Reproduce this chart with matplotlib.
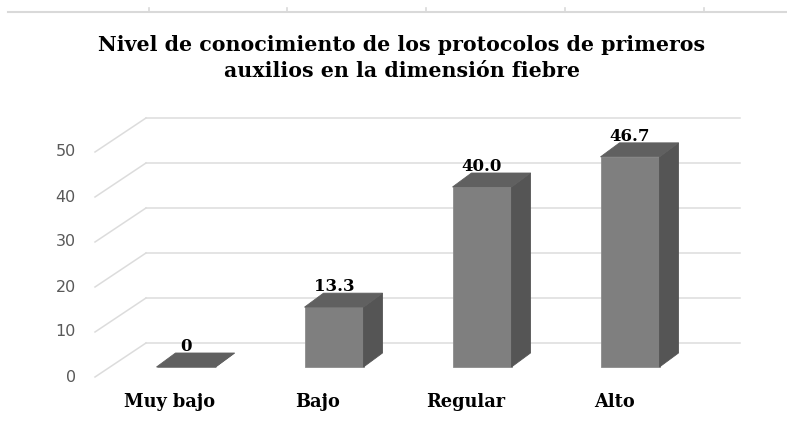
import matplotlib
matplotlib.use('Agg')
import matplotlib.pyplot as plt
from matplotlib.patches import Polygon
from matplotlib.lines import Line2D

# data
categorias = ['Muy bajo', 'Bajo', 'Regular', 'Alto']
valores = [0, 13.3, 40.0, 46.7]
etiquetas = ['0', '13.3', '40.0', '46.7']
ticks_y = [0, 10, 20, 30, 40, 50]
titulo = 'Nivel de conocimiento de los protocolos de primeros\nauxilios en la dimensión fiebre'

W, H = 787, 421
fig = plt.figure(figsize=(W / 100, H / 100), dpi=100)
ax = fig.add_axes([0, 0, 1, 1])
ax.set_axis_off()

# pixel scale of the front plane of the bars
PX_X = 148.0      # pixels per category
PX_Y = 4.5        # pixels per unit of value
X0_PX = 186.0     # pixel x of the first category
Y0_PX = 367.0     # pixel y (from top) of value 0
ax.set_xlim(-X0_PX / PX_X, (W - X0_PX) / PX_X)
ax.set_ylim((Y0_PX - H) / PX_Y, Y0_PX / PX_Y)


def dx(px):
    return px / PX_X


def dy(px):
    # px measured downward on screen
    return -px / PX_Y


# walls (front edge, back edge)
plane_left = dx(109.6 - X0_PX)
fx, fy = dx(-14.6), dy(10)
bx, by = dx(36.4), dy(-24)
right_end = dx(740 - X0_PX)
grid_kw = dict(color='#dcdcdc', linewidth=1.1, zorder=1)

for t in ticks_y:
    ax.plot([plane_left + fx, plane_left + bx], [t + fy, t + by], **grid_kw)
    ax.plot([plane_left + bx, right_end], [t + by, t + by], **grid_kw)
    ax.text(plane_left + fx - dx(19), t + fy, str(t), ha='right', va='center',
            fontsize=11.5, color='#595959', family='DejaVu Sans')

# bars
w = dx(59)
bdx, bdy = dx(19), dy(-14)
for i, v in enumerate(valores):
    l, r = i - w / 2, i + w / 2
    ax.bar(i, v, width=w, color='#7f7f7f', edgecolor='#8c8c8c', linewidth=0.6, zorder=3)
    side = Polygon([(r, 0), (r + bdx, bdy), (r + bdx, v + bdy), (r, v)],
                   closed=True, facecolor='#555555', edgecolor='#555555',
                   linewidth=0.6, zorder=3)
    top = Polygon([(l, v), (r, v), (r + bdx, v + bdy), (l + bdx, v + bdy)],
                  closed=True, facecolor='#606060', edgecolor='#606060',
                  linewidth=0.6, zorder=4)
    ax.add_patch(side)
    ax.add_patch(top)
    ax.text(i, v + bdy + dy(-2), etiquetas[i], ha='center', va='baseline',
            fontsize=12, fontweight='bold', family='DejaVu Serif', color='black')
    ax.text(i + dx(-16), dy(40), categorias[i], ha='center', va='baseline',
            fontsize=12.8, fontweight='bold', family='DejaVu Serif', color='black')

# title
fig.text(402 / W, 1 - 35 / H, titulo, ha='center', va='top', fontsize=14.8,
         fontweight='bold', family='DejaVu Serif', linespacing=1.4)

# faint border line at the top of the image
fig.add_artist(Line2D([8 / W, 1], [1 - 12 / H, 1 - 12 / H], color='#d9d9d9',
                      linewidth=1.5, transform=fig.transFigure))
for xt in [149, 287, 426, 565, 704]:
    fig.add_artist(Line2D([xt / W, xt / W], [1 - 12 / H, 1 - 8 / H], color='#d9d9d9',
                          linewidth=1.2, transform=fig.transFigure))

fig.savefig('out.png', dpi=100, facecolor='white')
